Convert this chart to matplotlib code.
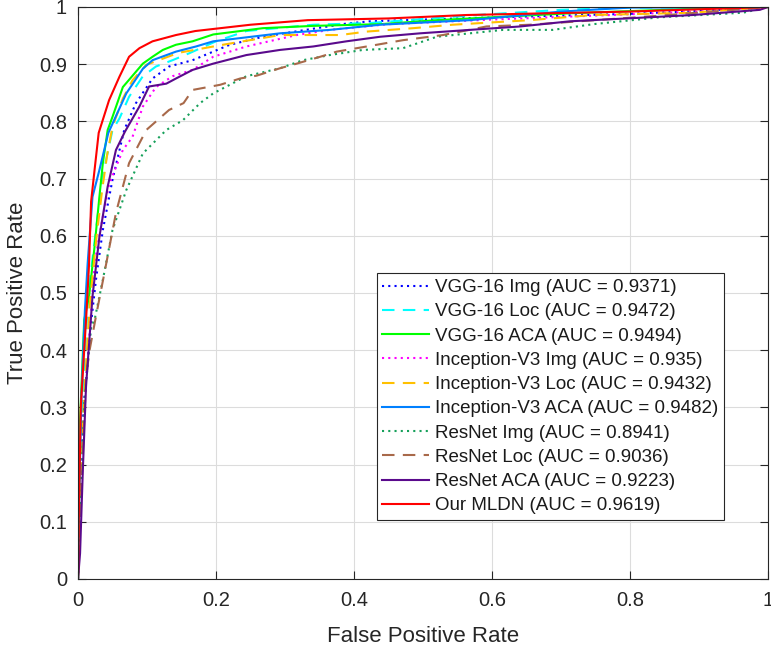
import matplotlib
matplotlib.use("Agg")
import matplotlib.pyplot as plt

plt.rcParams['font.family'] = ['Liberation Sans', 'DejaVu Sans']

labels = ["VGG-16 Img (AUC = 0.9371)", "VGG-16 Loc (AUC = 0.9472)", "VGG-16 ACA (AUC = 0.9494)",
          "Inception-V3 Img (AUC = 0.935)", "Inception-V3 Loc (AUC = 0.9432)",
          "Inception-V3 ACA (AUC = 0.9482)", "ResNet Img (AUC = 0.8941)",
          "ResNet Loc (AUC = 0.9036)", "ResNet ACA (AUC = 0.9223)", "Our MLDN (AUC = 0.9619)"]

vgg_img_fpr = [0, 0.002, 0.008, 0.019, 0.026, 0.036, 0.05, 0.067, 0.084, 0.108, 0.132, 0.166, 0.22, 0.268, 0.33, 0.389, 0.423, 0.55, 0.7, 0.8, 0.9, 1]
vgg_img_tpr = [0, 0.1, 0.3, 0.448, 0.523, 0.61, 0.698, 0.785, 0.832, 0.875, 0.896, 0.907, 0.934, 0.948, 0.96, 0.971, 0.975, 0.98, 0.985, 0.988, 0.993, 1]

vgg_loc_fpr = [0, 0.002, 0.007, 0.015, 0.025, 0.035, 0.05, 0.06, 0.074, 0.094, 0.113, 0.137, 0.161, 0.2, 0.244, 0.341, 0.423, 0.578, 0.7, 0.8, 1]
vgg_loc_tpr = [0, 0.12, 0.33, 0.5, 0.6, 0.7, 0.785, 0.805, 0.843, 0.879, 0.896, 0.907, 0.919, 0.94, 0.958, 0.969, 0.972, 0.986, 0.995, 0.999, 1]

vgg_aca_fpr = [0, 0.001, 0.003, 0.009, 0.016, 0.024, 0.031, 0.036, 0.043, 0.05, 0.065, 0.094, 0.108, 0.123, 0.142, 0.166, 0.196, 0.268, 0.341, 0.438, 0.52, 0.568, 0.713, 0.85, 0.95, 1]
vgg_aca_tpr = [0, 0.1, 0.278, 0.453, 0.494, 0.581, 0.668, 0.727, 0.785, 0.808, 0.86, 0.901, 0.913, 0.925, 0.934, 0.94, 0.952, 0.963, 0.967, 0.97, 0.977, 0.98, 0.989, 0.995, 1.0, 1]

inc_img_fpr = [0, 0.002, 0.009, 0.018, 0.024, 0.034, 0.045, 0.065, 0.079, 0.094, 0.113, 0.137, 0.166, 0.196, 0.244, 0.317, 0.365, 0.45, 0.6, 0.75, 0.9, 1]
inc_img_tpr = [0, 0.09, 0.3, 0.45, 0.552, 0.62, 0.69, 0.75, 0.773, 0.826, 0.86, 0.879, 0.89, 0.913, 0.931, 0.951, 0.96, 0.97, 0.978, 0.985, 0.992, 1]

inc_loc_fpr = [0, 0.002, 0.008, 0.017, 0.027, 0.035, 0.042, 0.05, 0.065, 0.079, 0.099, 0.146, 0.21, 0.293, 0.38, 0.418, 0.486, 0.543, 0.655, 0.747, 0.891, 1]
inc_loc_tpr = [0, 0.1, 0.3, 0.48, 0.6, 0.68, 0.74, 0.791, 0.84, 0.872, 0.899, 0.92, 0.934, 0.951, 0.951, 0.957, 0.963, 0.969, 0.977, 0.986, 0.99, 1]

inc_aca_fpr = [0, 0.001, 0.005, 0.01, 0.014, 0.021, 0.031, 0.044, 0.07, 0.094, 0.108, 0.142, 0.171, 0.196, 0.293, 0.365, 0.438, 0.568, 0.7, 0.8, 1]
inc_aca_tpr = [0, 0.1, 0.32, 0.47, 0.552, 0.668, 0.715, 0.78, 0.849, 0.892, 0.907, 0.922, 0.931, 0.94, 0.954, 0.96, 0.969, 0.977, 0.992, 0.999, 1]

res_img_fpr = [0, 0.003, 0.009, 0.019, 0.024, 0.036, 0.05, 0.07, 0.094, 0.128, 0.152, 0.177, 0.196, 0.244, 0.293, 0.326, 0.365, 0.413, 0.471, 0.52, 0.616, 0.688, 0.747, 0.843, 0.964, 1]
res_img_tpr = [0, 0.1, 0.307, 0.441, 0.453, 0.523, 0.61, 0.68, 0.744, 0.785, 0.802, 0.832, 0.849, 0.879, 0.893, 0.907, 0.916, 0.925, 0.928, 0.948, 0.96, 0.96, 0.97, 0.982, 0.99, 1]

res_loc_fpr = [0, 0.003, 0.008, 0.0116, 0.016, 0.026, 0.041, 0.055, 0.074, 0.099, 0.132, 0.153, 0.166, 0.206, 0.235, 0.259, 0.293, 0.317, 0.351, 0.375, 0.404, 0.433, 0.471, 0.529, 0.592, 0.655, 0.833, 0.95, 1]
res_loc_tpr = [0, 0.09, 0.25, 0.348, 0.395, 0.459, 0.552, 0.64, 0.727, 0.785, 0.82, 0.832, 0.855, 0.864, 0.875, 0.88, 0.893, 0.901, 0.913, 0.922, 0.928, 0.934, 0.942, 0.951, 0.966, 0.969, 0.984, 0.995, 1]

res_aca_fpr = [0, 0.003, 0.007, 0.0116, 0.021, 0.031, 0.043, 0.055, 0.068, 0.089, 0.103, 0.128, 0.142, 0.166, 0.196, 0.244, 0.293, 0.341, 0.389, 0.438, 0.496, 0.568, 0.641, 0.713, 0.795, 0.891, 0.988, 1]
res_aca_tpr = [0, 0.045, 0.19, 0.336, 0.494, 0.598, 0.686, 0.75, 0.782, 0.826, 0.861, 0.866, 0.875, 0.89, 0.901, 0.916, 0.925, 0.931, 0.94, 0.948, 0.954, 0.96, 0.966, 0.975, 0.98, 0.986, 0.995, 1]

mldn_fpr = [0, 0.001, 0.004, 0.012, 0.016, 0.019, 0.024, 0.03, 0.045, 0.06, 0.074, 0.089, 0.108, 0.142, 0.17, 0.25, 0.333, 0.45, 0.563, 0.68, 0.8, 0.9, 1]
mldn_tpr = [0, 0.10, 0.30, 0.46, 0.55, 0.66, 0.715, 0.78, 0.837, 0.878, 0.913, 0.928, 0.94, 0.951, 0.958, 0.969, 0.977, 0.98, 0.986, 0.989, 0.992, 0.996, 1]

x_ticks = [0, 0.2, 0.4, 0.6, 0.8, 1]
x_tick_labels = ["0", "0.2", "0.4", "0.6", "0.8", "1"]
y_ticks = [0, 0.1, 0.2, 0.3, 0.4, 0.5, 0.6, 0.7, 0.8, 0.9, 1]
y_tick_labels = ["0", "0.1", "0.2", "0.3", "0.4", "0.5", "0.6", "0.7", "0.8", "0.9", "1"]

series = [
    (vgg_img_fpr, vgg_img_tpr, '#0000ff', (0, (1, 2))),
    (vgg_loc_fpr, vgg_loc_tpr, '#00ffff', (0, (6, 4))),
    (vgg_aca_fpr, vgg_aca_tpr, '#00ff00', '-'),
    (inc_img_fpr, inc_img_tpr, '#ff00ff', (0, (1, 2))),
    (inc_loc_fpr, inc_loc_tpr, '#ffc000', (0, (6, 4))),
    (inc_aca_fpr, inc_aca_tpr, '#0080ff', '-'),
    (res_img_fpr, res_img_tpr, '#16a05a', (0, (1, 2))),
    (res_loc_fpr, res_loc_tpr, '#a8694a', (0, (6, 4))),
    (res_aca_fpr, res_aca_tpr, '#5a0a8c', '-'),
    (mldn_fpr, mldn_tpr, '#ff0000', '-'),
]

fig = plt.figure(figsize=(7.71, 6.46), dpi=100)
ax = fig.add_axes([78/771, 1 - 579/646, 690/771, 572/646])

for (fx, ty, c, ls), lab in zip(series, labels):
    ax.plot(fx, ty, color=c, linestyle=ls, linewidth=1.5, label=lab)

ax.set_xlim(0, 1)
ax.set_ylim(0, 1)
ax.set_xticks(x_ticks)
ax.set_xticklabels(x_tick_labels)
ax.set_yticks(y_ticks)
ax.set_yticklabels(y_tick_labels)
ax.grid(True, color='#dcdcdc', linewidth=0.8)
ax.set_axisbelow(True)
for s in ax.spines.values():
    s.set_color('#262626')
    s.set_linewidth(0.8)
ax.tick_params(direction='in', length=6, width=0.8, colors='#262626', labelsize=14.5,
               top=True, right=True)
ax.tick_params(axis='x', pad=9)
ax.tick_params(axis='y', pad=8)
for lbl in ax.get_xticklabels() + ax.get_yticklabels():
    lbl.set_color('#262626')
ax.set_xlabel("False Positive Rate", fontsize=16, color='#262626', labelpad=11)
ax.set_ylabel("True Positive Rate", fontsize=16, color='#262626', labelpad=8)

leg = ax.legend(loc='lower left', bbox_to_anchor=(0.433, 0.103),
                fontsize=13.5, frameon=True, fancybox=False, framealpha=1,
                handlelength=2.5, handletextpad=0.3, labelspacing=0.38, borderpad=0.3,
                borderaxespad=0)
leg.get_frame().set_edgecolor('#262626')
leg.get_frame().set_linewidth(0.8)
for t in leg.get_texts():
    t.set_color('#1a1a1a')

fig.savefig("out.png", dpi=100)
